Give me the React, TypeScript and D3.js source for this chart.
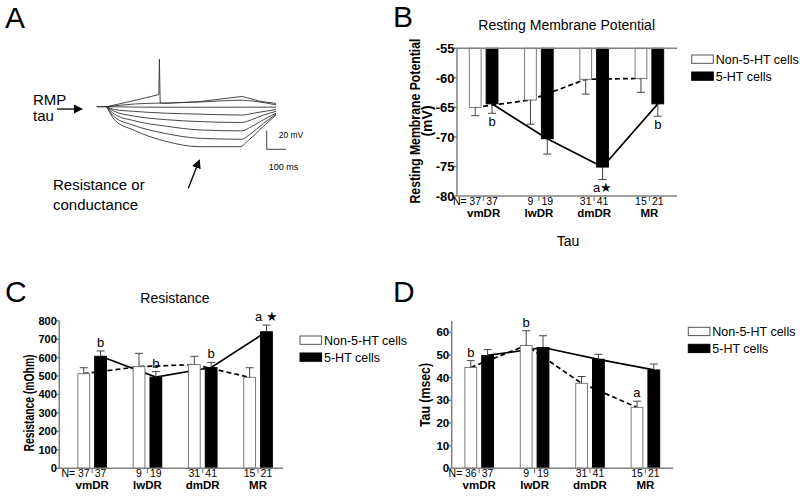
import React from 'react';
import * as d3 from 'd3';

const FONT = "'Liberation Sans', Arial, Helvetica, sans-serif";

const groups = ['vmDR', 'lwDR', 'dmDR', 'MR'];
const seriesLabels = ['Non-5-HT cells', '5-HT cells'];

// ---------- Panel B: Resting membrane potential (mV) ----------
const rmpNon = [-65.0, -63.75, -60.25, -60.1];
const rmpNonErr = [1.4, 4.1, 2.5, 2.35];
const rmpHT = [-64.4, -70.3, -75.1, -64.4];
const rmpHTErr = [1.6, 2.6, 2.1, 2.1];
const rmpNNon = [37, 9, 31, 15];
const rmpNHT = [37, 19, 41, 21];
const rmpTicks = [-55, -60, -65, -70, -75, -80];
const rmpMarks = [
  { group: 'vmDR', series: 1, text: 'b' },
  { group: 'dmDR', series: 1, text: 'a\u2605' },
  { group: 'MR', series: 1, text: 'b' },
];

// ---------- Panel C: Resistance (mOhm) ----------
const resNon = [513, 551, 562, 493];
const resNonErr = [32, 72, 45, 52];
const resHT = [607, 494, 546, 740];
const resHTErr = [29, 30, 28, 36];
const resNNon = [37, 9, 31, 15];
const resNHT = [37, 19, 41, 21];
const resTicks = [0, 100, 200, 300, 400, 500, 600, 700, 800];
const resMarks = [
  { group: 'vmDR', series: 1, text: 'b' },
  { group: 'lwDR', series: 1, text: 'b' },
  { group: 'dmDR', series: 1, text: 'b' },
  { group: 'MR', series: 1, text: 'a \u2605' },
];

// ---------- Panel D: Tau (msec) ----------
const tauNon = [44.5, 54.2, 37.5, 26.9];
const tauNonErr = [3.0, 6.5, 3.0, 2.7];
const tauHT = [49.8, 53.3, 48.1, 43.4];
const tauHTErr = [2.6, 5.2, 2.2, 2.6];
const tauNNon = [36, 9, 31, 15];
const tauNHT = [37, 19, 41, 21];
const tauTicks = [0, 10, 20, 30, 40, 50, 60];
const tauMarks = [
  { group: 'vmDR', series: 0, text: 'b' },
  { group: 'lwDR', series: 0, text: 'b' },
  { group: 'MR', series: 0, text: 'a' },
];

// ---------- Panel A: voltage traces [ms, mV relative to RMP] ----------
const traceStub: [number, number][] = [[-52, 0], [0, 0]];
const traceSpike: [number, number][] = [
  [0, 0], [130, 6], [270, 13], [273, 51], [277, 4], [300, 3.5], [480, 5.5], [700, 11], [730, 9.5], [790, 6], [877, 3.5],
];
const traceSmooth: [number, number][][] = [
  [[0, 0], [150, 3], [300, 4], [480, 5], [700, 7], [760, 6], [877, 2]],
  [[0, 0], [200, -0.5], [484, -0.6], [700, -0.5], [877, -0.5]],
  [[0, 0], [40, -3], [140, -5], [310, -7], [484, -8], [700, -9], [760, -7], [877, -3]],
  [[0, 0], [40, -5], [140, -10], [310, -14], [484, -16], [700, -17], [750, -14], [812, -9], [877, -5]],
  [[0, 0], [40, -8], [140, -15], [310, -21], [484, -25], [700, -26], [745, -22], [812, -14], [877, -7]],
  [[0, 0], [40, -11], [140, -20], [310, -29], [484, -34], [700, -35], [740, -30], [812, -18], [877, -8]],
  [[0, 0], [40, -14], [138, -25], [311, -37.5], [484, -43], [690, -43], [735, -36], [812, -21], [877, -9]],
];
const scaleBarMs = 100;
const scaleBarMv = 20;
const scaleBarOrigin: [number, number] = [829, -45.8];
const rmpArrow: [number, number][] = [[-258, -2.5], [-128, -2.5]];
const resArrow: [number, number][] = [[423, -87.7], [480, -57.3]];

type Mark = { group: string; series: number; text: string };

type PanelProps = {
  letter: string; letterPos: [number, number];
  title: string; titlePos: [number, number];
  domain: [number, number]; yRange: [number, number]; base: number; ticks: number[]; tickFont: number;
  axisLeft: number; axisRight: number; band: [number, number];
  yLabels: { text: string; x: number; len?: number }[]; yLabelCY: number; yLabelFont: number;
  legend: [number, number];
  non: number[]; nonErr: number[]; ht: number[]; htErr: number[];
  nNon: number[]; nHT: number[]; marks: Mark[]; topLine?: boolean;
};

function BarPanel(p: PanelProps) {
  const y = d3.scaleLinear().domain(p.domain).range(p.yRange);
  const x0 = d3.scaleBand().domain(groups).range(p.band).paddingInner(0).paddingOuter(0);
  const x1 = d3.scaleBand().domain(['0', '1']).range([-14.3, 14.3]).paddingInner(0.3);
  const gc = (g: string) => (x0(g) as number) + x0.bandwidth() / 2;
  const bx = (g: string, s: number) => gc(g) + (x1(String(s)) as number);
  const bcx = (g: string, s: number) => bx(g, s) + x1.bandwidth() / 2;
  const vals = [p.non, p.ht];
  const errs = [p.nonErr, p.htErr];
  const ns = [p.nNon, p.nHT];
  const yBase = y(p.base);
  const yBottom = y(p.domain[0]);
  const yTop = y(p.domain[1]);
  const errEnd = (s: number, i: number) => {
    const v = vals[s][i];
    const dir = v >= p.base ? 1 : -1;
    return v + dir * errs[s][i];
  };
  const line = d3.line<[number, number]>().x(d => d[0]).y(d => d[1]);
  const axisColor = '#808080';
  return (
    <g fontFamily={FONT}>
      <text x={p.letterPos[0]} y={p.letterPos[1]} fontSize={30}>{p.letter}</text>
      <text x={p.titlePos[0]} y={p.titlePos[1]} fontSize={14} textAnchor="middle">{p.title}</text>
      {p.yLabels.map((l, i) => (
        <text key={i} transform={`translate(${l.x},${p.yLabelCY}) rotate(-90)`} fontSize={p.yLabelFont} fontWeight="bold"
          textAnchor="middle" {...(l.len ? { textLength: l.len, lengthAdjust: 'spacingAndGlyphs' } : {})}>{l.text}</text>
      ))}
      {/* connecting lines (behind bars) */}
      {[0, 1].map(s => (
        <path key={'ln' + s}
          d={line(groups.map((g, i) => [bcx(g, s), y(vals[s][i])] as [number, number])) || ''}
          fill="none" stroke="#000" strokeWidth={1.7}
          strokeDasharray={s === 0 ? '5,3' : undefined} />
      ))}
      {/* bars */}
      {[0, 1].map(s => groups.map((g, i) => {
        const yv = y(vals[s][i]);
        return (
          <rect key={'b' + s + g} x={bx(g, s)} width={x1.bandwidth()}
            y={Math.min(yv, yBase)} height={Math.abs(yv - yBase)}
            fill={s === 0 ? '#fff' : '#000'} stroke={s === 0 ? '#7a7a7a' : '#000'} strokeWidth={1} />
        );
      }))}
      {/* error bars */}
      {[0, 1].map(s => groups.map((g, i) => {
        const cx = bcx(g, s);
        const y1 = y(vals[s][i]);
        const y2 = y(errEnd(s, i));
        return (
          <g key={'e' + s + g} stroke="#444" strokeWidth={1}>
            <line x1={cx} x2={cx} y1={y1} y2={y2} />
            <line x1={cx - 4} x2={cx + 4} y1={y2} y2={y2} />
          </g>
        );
      }))}
      {/* significance marks */}
      {p.marks.map((m, k) => {
        const i = groups.indexOf(m.group);
        const ye = y(errEnd(m.series, i));
        const below = vals[m.series][i] < p.base;
        return (
          <text key={'m' + k} x={bcx(m.group, m.series)} y={below ? ye + 13 : ye - 4}
            fontSize={13} textAnchor="middle" fill="#000">{m.text}</text>
        );
      })}
      {/* axes */}
      <line x1={p.axisLeft} x2={p.axisLeft} y1={yTop} y2={yBottom} stroke={axisColor} strokeWidth={1.5} />
      <line x1={p.axisLeft} x2={p.axisRight} y1={yBottom} y2={yBottom} stroke={axisColor} strokeWidth={1.5} />
      {p.topLine && (
        <line x1={p.axisLeft} x2={p.axisRight} y1={yBase} y2={yBase} stroke={axisColor} strokeWidth={1.5} />
      )}
      {p.ticks.map(t => (
        <g key={'t' + t}>
          <line x1={p.axisLeft - 3.5} x2={p.axisLeft} y1={y(t)} y2={y(t)} stroke={axisColor} strokeWidth={1.5} />
          <text x={p.axisLeft - 2.5} y={y(t)} dy="0.36em" fontSize={p.tickFont} fontWeight="bold" textAnchor="end">{t}</text>
        </g>
      ))}
      {groups.map((g, i) => (
        <g key={'g' + g}>
          <line x1={gc(g)} x2={gc(g)} y1={yBottom} y2={yBottom + 5} stroke={axisColor} strokeWidth={1.2} />
          {[0, 1].map(s => (
            <text key={s} x={bcx(g, s)} y={yBottom + 8.5} fontSize={10.5} textAnchor="middle">{ns[s][i]}</text>
          ))}
          <text x={gc(g)} y={yBottom + 21} fontSize={11.5} fontWeight="bold" textAnchor="middle">{g}</text>
        </g>
      ))}
      <text x={bcx(groups[0], 0) - 8.5} y={yBottom + 8.5} fontSize={10.5} textAnchor="end">N=</text>
      {/* legend */}
      {seriesLabels.map((l, s) => (
        <g key={'lg' + s}>
          <rect x={p.legend[0]} y={p.legend[1] + s * 17} width={21.6} height={8.3}
            fill={s === 0 ? '#fff' : '#000'} stroke={s === 0 ? '#555' : '#000'} strokeWidth={1} />
          <text x={p.legend[0] + 24} y={p.legend[1] + s * 17 + 8.8} fontSize={12.5}>{l}</text>
        </g>
      ))}
    </g>
  );
}

function TracePanel() {
  const ax = d3.scaleLinear().domain([0, 877]).range([106.7, 276]);
  const ay = d3.scaleLinear().domain([0, -43]).range([106.7, 146.7]);
  const smooth = d3.line<[number, number]>().x(d => ax(d[0])).y(d => ay(d[1])).curve(d3.curveMonotoneX);
  const straight = d3.line<[number, number]>().x(d => ax(d[0])).y(d => ay(d[1]));
  const [sx, sy] = scaleBarOrigin;
  return (
    <g fontFamily={FONT}>
      <defs>
        <marker id="arrowHead" viewBox="0 0 10 10" refX="9" refY="5" markerWidth="7" markerHeight="7" orient="auto-start-reverse">
          <path d="M0,0 L10,5 L0,10 z" fill="#000" />
        </marker>
      </defs>
      <text x={5} y={28} fontSize={30}>A</text>
      <path d={straight(traceStub) || ''} fill="none" stroke="#222" strokeWidth={1.2} />
      {traceSmooth.map((t, i) => (
        <path key={i} d={smooth(t) || ''} fill="none" stroke="#333" strokeWidth={0.9} />
      ))}
      <path d={straight(traceSpike) || ''} fill="none" stroke="#333" strokeWidth={0.9} />
      <g stroke="#444" strokeWidth={1}>
        <line x1={ax(sx)} x2={ax(sx)} y1={ay(sy)} y2={ay(sy + scaleBarMv)} />
        <line x1={ax(sx)} x2={ax(sx + scaleBarMs)} y1={ay(sy)} y2={ay(sy)} />
      </g>
      <text x={ax(sx) + 12} y={ay(sy + scaleBarMv) + 7} fontSize={8.5}>20 mV</text>
      <text x={ax(sx) + 2} y={ay(sy) + 21} fontSize={9}>100 ms</text>
      <line x1={ax(rmpArrow[0][0])} y1={ay(rmpArrow[0][1])} x2={ax(rmpArrow[1][0])} y2={ay(rmpArrow[1][1])}
        stroke="#000" strokeWidth={1.3} markerEnd="url(#arrowHead)" />
      <line x1={ax(resArrow[0][0])} y1={ay(resArrow[0][1])} x2={ax(resArrow[1][0])} y2={ay(resArrow[1][1])}
        stroke="#000" strokeWidth={1.3} markerEnd="url(#arrowHead)" />
      <text x={33} y={105} fontSize={15}>RMP</text>
      <text x={33} y={121} fontSize={15}>tau</text>
      <text x={53} y={190} fontSize={15}>Resistance or</text>
      <text x={53} y={210} fontSize={15}>conductance</text>
    </g>
  );
}

export default function App() {
  return (
    <svg width={800} height={496} viewBox="0 0 800 496" style={{ position: 'absolute', left: 0, top: 0 }}>
      <rect x={0} y={0} width={800} height={496} fill="#fff" />
      <TracePanel />
      <BarPanel
        letter="B" letterPos={[393, 27]}
        title="Resting Membrane Potential" titlePos={[566.7, 30]}
        domain={[-80, -55]} yRange={[196, 48.3]} base={-55} ticks={rmpTicks} tickFont={13}
        axisLeft={457} axisRight={677} band={[456, 677]}
        yLabels={[{ text: 'Resting Membrane Potential', x: 420, len: 165 }, { text: '(mV)', x: 432 }]} yLabelCY={121} yLabelFont={14}
        legend={[691.7, 55]}
        non={rmpNon} nonErr={rmpNonErr} ht={rmpHT} htErr={rmpHTErr}
        nNon={rmpNNon} nHT={rmpNHT} marks={rmpMarks} topLine
      />
      <BarPanel
        letter="C" letterPos={[5, 302]}
        title="Resistance" titlePos={[175, 303]}
        domain={[0, 800]} yRange={[468.3, 320.7]} base={0} ticks={resTicks} tickFont={11}
        axisLeft={59.3} axisRight={283} band={[64.5, 285.7]}
        yLabels={[{ text: 'Resistance (mOhm)', x: 34, len: 97 }]} yLabelCY={403} yLabelFont={14}
        legend={[300, 336]}
        non={resNon} nonErr={resNonErr} ht={resHT} htErr={resHTErr}
        nNon={resNNon} nHT={resNHT} marks={resMarks}
      />
      <BarPanel
        letter="D" letterPos={[393, 302]}
        title="Tau" titlePos={[568, 246]}
        domain={[0, 65]} yRange={[468.3, 321]} base={0} ticks={tauTicks} tickFont={11.5}
        axisLeft={451.7} axisRight={673.3} band={[451.5, 673.1]}
        yLabels={[{ text: 'Tau (msec)', x: 429.5, len: 64 }]} yLabelCY={395} yLabelFont={14}
        legend={[688.3, 327.3]}
        non={tauNon} nonErr={tauNonErr} ht={tauHT} htErr={tauHTErr}
        nNon={tauNNon} nHT={tauNHT} marks={tauMarks}
      />
    </svg>
  );
}
